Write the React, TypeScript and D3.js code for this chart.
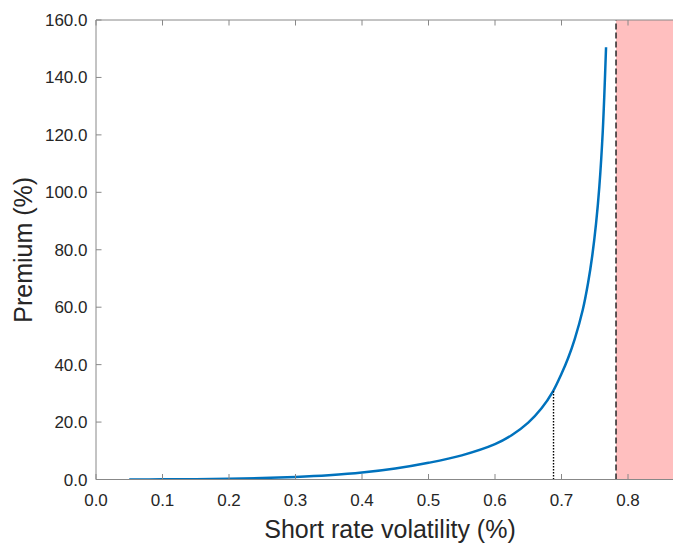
import React from "react";
import * as d3 from "d3";

const volatility = [0.05, 0.1, 0.15, 0.2, 0.25, 0.3, 0.35, 0.4, 0.45, 0.5, 0.55, 0.6, 0.625, 0.65, 0.67, 0.6872, 0.7, 0.71, 0.72, 0.7319, 0.74, 0.7463, 0.7519, 0.7569, 0.762, 0.767];
const premium = [0.0, 0.05, 0.12, 0.25, 0.5, 0.9, 1.5, 2.4, 3.8, 5.8, 8.4, 12.3, 15.4, 19.8, 24.8, 30.7, 36.8, 42.3, 49, 59, 68.5, 78, 89, 102, 121, 150.5];
const xTicks = [0, 0.1, 0.2, 0.3, 0.4, 0.5, 0.6, 0.7, 0.8];
const yTicks = [0, 20, 40, 60, 80, 100, 120, 140, 160];
const markerVol = 0.688;
const markerPremium = 30.7;
const limitVol = 0.782;
const xMax = 0.885;

const W = 673;
const H = 543;
const left = 96;
const top = 20;
const bottom = 479.5;

export default function App() {
  const x = d3.scaleLinear().domain([0, 1]).range([left, left + 665]);
  const y = d3.scaleLinear().domain([0, 160]).range([bottom, top]);
  const xEnd = x(xMax);
  const line = d3
    .line<number>()
    .x((_, i) => x(volatility[i]))
    .y((d) => y(d))
    .curve(d3.curveCatmullRom.alpha(0.5));
  const axisColor = "#888888";
  const textColor = "#262626";
  const font = "'Liberation Sans', Arial, Helvetica, sans-serif";
  const tickLen = 5.5;
  return (
    <div style={{ position: "fixed", left: 0, top: 0 }}>
      <svg width={W} height={H} style={{ display: "block", background: "#fff" }}>
        <defs>
          <clipPath id="plot">
            <rect x={left} y={top} width={xEnd - left} height={bottom - top} />
          </clipPath>
        </defs>
        <g clipPath="url(#plot)">
          <rect x={x(limitVol)} y={y(160)} width={xEnd - x(limitVol)} height={y(0) - y(160)} fill="#FFBFBF" />
          <path d={line(premium) || ""} fill="none" stroke="#0072BD" strokeWidth={2.5} />
          <line x1={x(markerVol)} x2={x(markerVol)} y1={y(0)} y2={y(markerPremium)} stroke="#000" strokeWidth={1.4} strokeDasharray="1.5,1.5" />
          <line x1={x(limitVol)} x2={x(limitVol)} y1={y(0)} y2={y(160)} stroke="#333" strokeWidth={1.6} strokeDasharray="6,3" />
        </g>
        <line x1={left} x2={left} y1={top} y2={bottom} stroke={axisColor} strokeWidth={1} />
        <line x1={left} x2={xEnd} y1={bottom} y2={bottom} stroke={axisColor} strokeWidth={1} />
        <line x1={left} x2={xEnd} y1={top} y2={top} stroke={axisColor} strokeWidth={1} />
        {xTicks.map((t) => (
          <g key={"x" + t}>
            <line x1={x(t)} x2={x(t)} y1={bottom} y2={bottom - tickLen} stroke={axisColor} />
            <line x1={x(t)} x2={x(t)} y1={top} y2={top + tickLen} stroke={axisColor} />
            <text x={x(t)} y={506} textAnchor="middle" fontFamily={font} fontSize={17} fill={textColor}>
              {t.toFixed(1)}
            </text>
          </g>
        ))}
        {yTicks.map((t) => (
          <g key={"y" + t}>
            <line x1={left} x2={left + tickLen} y1={y(t)} y2={y(t)} stroke={axisColor} />
            <text x={87.5} y={y(t) + 6} textAnchor="end" fontFamily={font} fontSize={17} fill={textColor}>
              {t.toFixed(1)}
            </text>
          </g>
        ))}
        <text x={390} y={538} textAnchor="middle" fontFamily={font} fontSize={25} fill={textColor}>
          Short rate volatility (%)
        </text>
        <text
          transform={`translate(32,${(top + bottom) / 2}) rotate(-90)`}
          textAnchor="middle"
          fontFamily={font}
          fontSize={25}
          fill={textColor}
        >
          Premium (%)
        </text>
      </svg>
    </div>
  );
}
